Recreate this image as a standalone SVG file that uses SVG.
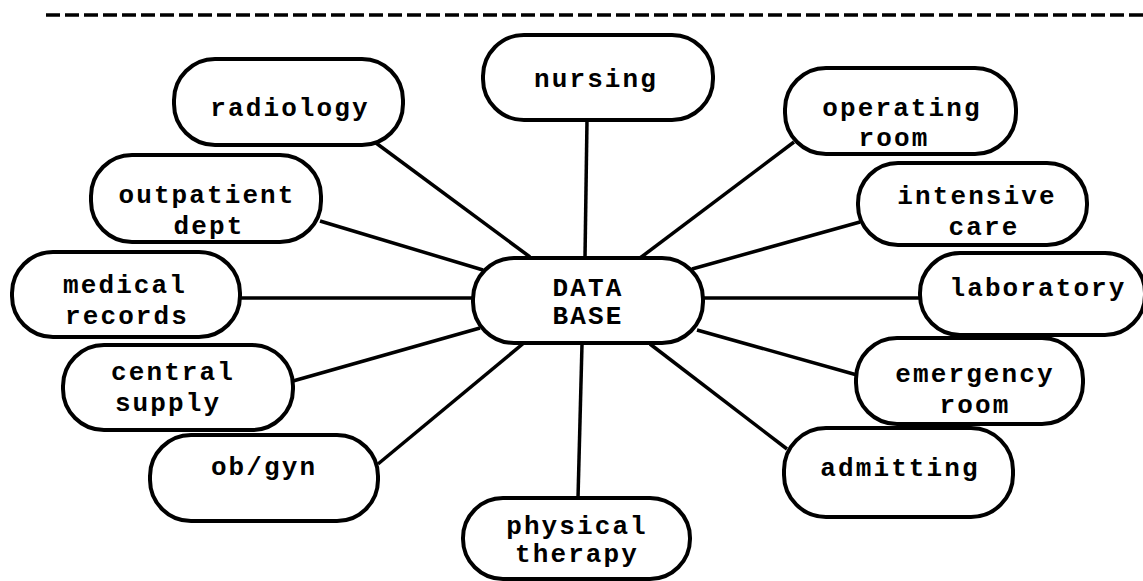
<svg xmlns="http://www.w3.org/2000/svg" width="1143" height="581" viewBox="0 0 1143 581">
<style>
.n rect{fill:#fff;stroke:#000;stroke-width:4}
.n text{font-family:"Liberation Mono","DejaVu Sans Mono",monospace;font-weight:bold;font-size:26px;letter-spacing:2.1px;fill:#000;text-anchor:middle}
#edges line{stroke:#000;stroke-width:3.5}
</style>
<rect width="1143" height="581" fill="#fff"/>
<line x1="46" y1="15" x2="1143" y2="15" stroke="#000" stroke-width="3.5" stroke-dasharray="14 5"/>
<g id="edges">
<line x1="587" y1="120" x2="585" y2="258"/>
<line x1="376" y1="143" x2="530" y2="257"/>
<line x1="320" y1="221" x2="483" y2="270"/>
<line x1="240" y1="298" x2="473" y2="298"/>
<line x1="293" y1="381" x2="480" y2="328"/>
<line x1="378" y1="464" x2="525" y2="342"/>
<line x1="578" y1="498" x2="582" y2="344"/>
<line x1="787" y1="449" x2="650" y2="344"/>
<line x1="857" y1="375" x2="697" y2="330"/>
<line x1="703" y1="298" x2="920" y2="298"/>
<line x1="860" y1="222" x2="692" y2="269"/>
<line x1="794" y1="142" x2="640" y2="258"/>
</g>
<g id="database" class="n"><rect x="473" y="258" width="230" height="85" rx="41"/><text x="588" y="296">DATA</text><text x="588" y="324">BASE</text></g>
<g id="nursing" class="n"><rect x="483" y="35" width="230" height="85" rx="41"/><text x="596" y="87">nursing</text></g>
<g id="radiology" class="n"><rect x="174" y="59" width="229" height="86" rx="41"/><text x="290" y="116">radiology</text></g>
<g id="outpatient" class="n"><rect x="91" y="155" width="230" height="87" rx="41"/><text x="207" y="203">outpatient</text><text x="209" y="234">dept</text></g>
<g id="medical" class="n"><rect x="12" y="252" width="228" height="85" rx="41"/><text x="125" y="293">medical</text><text x="127" y="324">records</text></g>
<g id="central" class="n"><rect x="63" y="345" width="230" height="85" rx="41"/><text x="173" y="380">central</text><text x="168" y="411">supply</text></g>
<g id="obgyn" class="n"><rect x="150" y="435" width="228" height="86" rx="41"/><text x="264" y="475">ob/gyn</text></g>
<g id="physical" class="n"><rect x="463" y="498" width="227" height="81" rx="40"/><text x="577" y="534">physical</text><text x="577" y="562">therapy</text></g>
<g id="admitting" class="n"><rect x="784" y="428" width="229" height="89" rx="42"/><text x="900" y="476">admitting</text></g>
<g id="emergency" class="n"><rect x="856" y="338" width="227" height="86" rx="41"/><text x="975" y="382">emergency</text><text x="975" y="413">room</text></g>
<g id="laboratory" class="n"><rect x="920" y="253" width="225" height="82" rx="40"/><text x="1038" y="296">laboratory</text></g>
<g id="intensive" class="n"><rect x="858" y="163" width="229" height="82" rx="40"/><text x="977" y="204">intensive</text><text x="984" y="235">care</text></g>
<g id="operating" class="n"><rect x="785" y="68" width="231" height="86" rx="41"/><text x="902" y="116">operating</text><text x="894" y="146">room</text></g>
</svg>
